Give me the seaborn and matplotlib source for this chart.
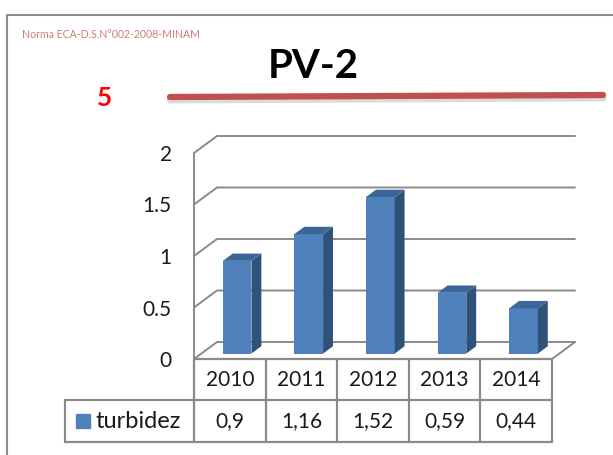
"""PV-2 turbidity chart, Excel-like 3D columns with data table."""
import matplotlib
matplotlib.use('Agg')
import matplotlib.pyplot as plt
from matplotlib.patches import Polygon
from matplotlib.lines import Line2D
import pandas as pd
import seaborn as sns

years = ['2010', '2011', '2012', '2013', '2014']
turbidez = [0.9, 1.16, 1.52, 0.59, 0.44]
table_labels = ['0,9', '1,16', '1,52', '0,59', '0,44']
y_ticks = [0, 0.5, 1, 1.5, 2]
y_ticklabels = ['0', '0.5', '1', '1.5', '2']
series_name = 'turbidez'
title = 'PV-2'
norma = 'Norma ECA-D.S.N°002-2008-MINAM'
limit_label = '5'

sns.set_theme(style='white')
plt.rcParams['font.family'] = ['Lato', 'DejaVu Sans']

W, H = 613, 455
front_c, side_c, top_c = '#4f81bd', '#2f5279', '#3d6698'
grid_c = '#8a8a8a'

fig = plt.figure(figsize=(W / 100, H / 100), dpi=100)
# axes = front plane of the 3D box
ax = fig.add_axes([194 / W, 1 - 359 / H, 358 / W, 206 / H])

df = pd.DataFrame({'year': years, series_name: turbidez})
sns.barplot(data=df, x='year', y=series_name, color=front_c, saturation=1,
            width=0.4, ax=ax, zorder=3)
ax.set_xlim(-0.5, len(years) - 0.5)
ax.set_ylim(0, 2)

# depth of the box in data units (approx 23 x 17 px)
ppx = 358 / len(years)
ppy = 206 / 2
ddx, ddy = 23 / ppx, 17 / ppy
f0, fb = 0.32, 0.43

for p in ax.patches:
    p.set_x(p.get_x() + f0 * ddx)
    p.set_y(f0 * ddy)
    p.set_edgecolor('none')
    x0, y0 = p.get_x(), p.get_y()
    x1, h = x0 + p.get_width(), p.get_height()
    bx, by = fb * ddx, fb * ddy
    ax.add_patch(Polygon([(x1, y0), (x1 + bx, y0 + by), (x1 + bx, y0 + h + by), (x1, y0 + h)],
                         closed=True, facecolor=side_c, edgecolor='none', zorder=3))
    ax.add_patch(Polygon([(x0, y0 + h), (x1, y0 + h), (x1 + bx, y0 + h + by), (x0 + bx, y0 + h + by)],
                         closed=True, facecolor=top_c, edgecolor='none', zorder=3))

# back wall + left wall gridlines
xl, xr = -0.5, len(years) - 0.5
for v in y_ticks:
    ax.plot([xl, xl + ddx, xr + ddx], [v, v + ddy, v + ddy], color=grid_c,
            lw=1.4, clip_on=False, zorder=1)
ax.plot([xl, xl], [0, 2], color=grid_c, lw=1.4, clip_on=False, zorder=1)
ax.plot([xr, xr + ddx], [0, ddy], color=grid_c, lw=1.4, clip_on=False, zorder=1)

sns.despine(ax=ax, left=True, bottom=True)
ax.set_xlabel('')
ax.set_ylabel('')
ax.tick_params(axis='x', bottom=False, labelbottom=False)
ax.set_yticks(y_ticks, y_ticklabels)
ax.tick_params(axis='y', length=0, pad=16, labelsize=15, labelcolor='#1a1a1a')

# data table below
yh, yd = -0.4, -0.81
leg_left = (65 - 194) / ppx + xl
tl = dict(color=grid_c, lw=1.6, clip_on=False, zorder=2)
for i in range(len(years) + 1):
    ax.plot([xl + i, xl + i], [0, yd], **tl)
ax.plot([xl, xr], [0, 0], **tl)
ax.plot([leg_left, xr], [yh, yh], **tl)
ax.plot([leg_left, xr], [yd, yd], **tl)
ax.plot([leg_left, leg_left], [yh, yd], **tl)
for i, (yr, lab) in enumerate(zip(years, table_labels)):
    ax.text(i, (0 + yh) / 2, yr, ha='center', va='center', fontsize=15,
            color='#1a1a1a', clip_on=False)
    ax.text(i, (yh + yd) / 2, lab, ha='center', va='center', fontsize=15,
            color='#1a1a1a', clip_on=False)
ax.plot([leg_left + 18 / ppx], [(yh + yd) / 2], marker='s', ms=10.5, color=front_c,
        clip_on=False, ls='none')
ax.text(leg_left + 31 / ppx, (yh + yd) / 2, series_name, ha='left', va='center',
        fontsize=17, color='#1a1a1a', clip_on=False)

# chart frame, titles, limit line
fig.add_artist(Line2D([7 / W, 7 / W, 1], [0, 1 - 15 / H, 1 - 15 / H],
                      transform=fig.transFigure, color='#8c8c8c', lw=1.5))
fig.add_artist(Line2D([170 / W, 603 / W], [1 - 100 / H, 1 - 98 / H],
                      transform=fig.transFigure, color='#999999', lw=5, alpha=0.35))
fig.add_artist(Line2D([170 / W, 603 / W], [1 - 97 / H, 1 - 95 / H],
                      transform=fig.transFigure, color='#c0504d', lw=4.5))
fig.text(22 / W, 1 - 35 / H, norma, fontsize=7.6, color='#c0504d', alpha=0.75, va='center')
fig.text(313 / W, 1 - 67 / H, title, fontsize=29, fontweight='bold', ha='center',
         va='center', color='black')
fig.text(105 / W, 1 - 98 / H, limit_label, fontsize=19, fontweight='bold',
         ha='center', va='center', color='#ff0000')

fig.savefig('out.png', dpi=100)
plt.close(fig)
